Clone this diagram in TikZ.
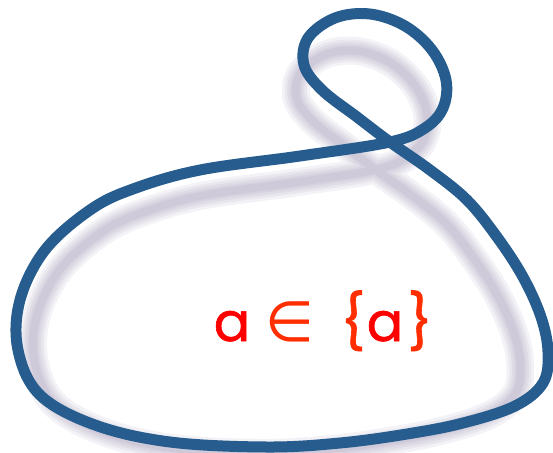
\documentclass[tikz,border=0pt]{standalone}
\usepackage{fontspec}
\setmainfont{Poppins}
\newfontfamily\labelfont{Poppins}[FakeBold=1.2]
\newfontfamily\symfont{DejaVu Sans}
\definecolor{loopblue}{RGB}{38,92,142}
\definecolor{shadowc}{RGB}{140,128,165}
\definecolor{redA}{RGB}{255,0,0}
\definecolor{redB}{RGB}{255,45,0}
\tikzset{
  curvepath/.style={line join=round, line cap=round},
  txt/.style={inner sep=0pt, anchor=base, font=\labelfont\fontsize{54}{60}\selectfont}
}
\newcommand{\loopcurve}{plot[smooth cycle, tension=0.6] coordinates {
(300,156) (390,142) (425,128) (443,108) (446,80) (432,50) (405,26) (370,14)
(335,18) (308,38) (304,65) (322,90) (357,117) (390,142) (430,170) (467,200)
(497,237) (523,277) (541,317) (548,352) (543,383) (515,406) (463,423) (407,434)
(340,443) (267,447) (170,442) (95,425) (40,395) (18,350) (20,300) (45,250)
(90,210) (133,189) (200,170)}}
\begin{document}
\begin{tikzpicture}[x=1pt,y=-1pt]
\useasboundingbox (0,0) rectangle (553,452);
\begin{scope}[xshift=18.3pt, yshift=-38pt, xscale=0.916, yscale=0.928]
  \foreach \w in {28,22,17,12,8} {
    \draw[curvepath, shadowc, line width=\w pt, opacity=0.1] \loopcurve;
  }
\end{scope}
\draw[curvepath, loopblue, line width=11pt] \loopcurve;
\node[txt, text=redA] (a1) at (232,341) {a};
\node[txt, text=redB, font=\symfont\fontsize{56}{60}\selectfont] (in) at (290,341) {∈};
\node[txt, text=redB] (lb) at (353,341) {\{};
\node[txt, text=redA] (a2) at (385,341) {a};
\node[txt, text=redB] (rb) at (420,341) {\}};
\end{tikzpicture}
\end{document}
